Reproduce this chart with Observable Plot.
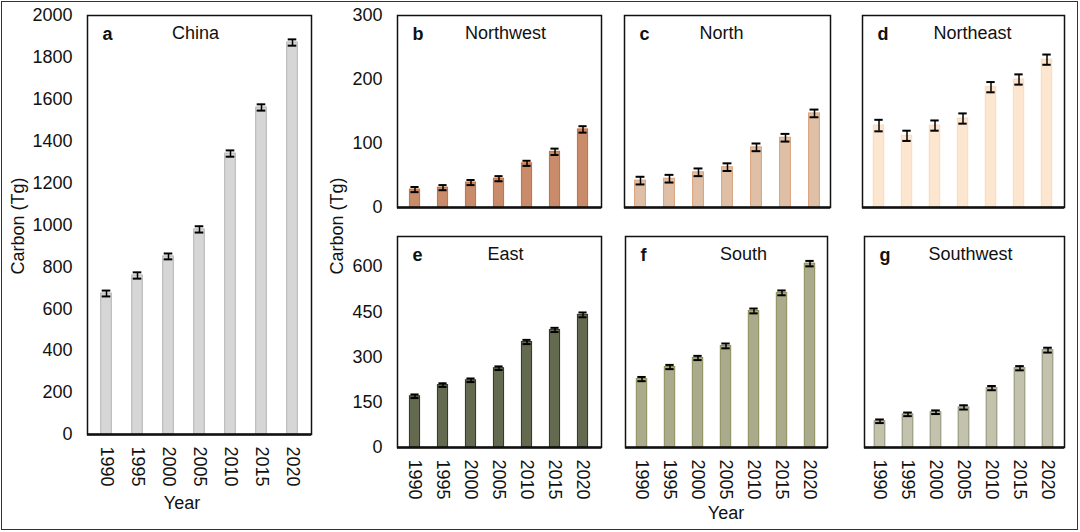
<!DOCTYPE html>
<html>
<head>
<meta charset="utf-8">
<script src="https://cdn.jsdelivr.net/npm/d3@7"></script>
<script src="https://cdn.jsdelivr.net/npm/@observablehq/plot@0.6"></script>
<style>
  html, body { margin: 0; padding: 0; background: #fff; }
  #wrap { position: relative; width: 1080px; height: 532px; overflow: hidden; font-family: "Liberation Sans", Arial, sans-serif; }
  #border { position: absolute; left: 1px; top: 1px; width: 1075px; height: 527px; border: 1.5px solid #333; }
  .p { position: absolute; }
  .p svg { overflow: visible; }
  .lab { position: absolute; font-size: 18px; color: #111; white-space: nowrap; transform: translate(-50%, -50%); }
  .rot { transform: translate(-50%, -50%) rotate(-90deg); }
</style>
</head>
<body>
<div id="wrap">
  <div id="border"></div>
</div>
<script>
const years = ["1990", "1995", "2000", "2005", "2010", "2015", "2020"];

const china        = [673, 759, 850, 979, 1341, 1561, 1871];
const chinaErr     = [14, 15, 14, 15, 15, 15, 15];
const northwest    = [28, 31, 39, 45, 69, 87, 122];
const northwestErr = [4, 4, 4, 4, 4, 5, 5];
const north        = [42, 45, 55, 63, 94, 109, 147];
const northErr     = [6, 6, 6, 6, 6, 6, 6];
const northeast    = [128, 112, 128, 139, 188, 200, 231];
const northeastErr = [9, 8, 8, 8, 8, 8, 8];
const east         = [170, 207, 223, 263, 350, 390, 440];
const eastErr      = [6, 6, 6, 6, 7, 7, 8];
const south        = [227, 267, 297, 337, 453, 513, 610];
const southErr     = [7, 7, 7, 8, 8, 8, 9];
const southwest    = [87, 110, 117, 133, 197, 263, 323];
const southwestErr = [6, 6, 6, 7, 7, 7, 8];

const chinaTicks = [0, 200, 400, 600, 800, 1000, 1200, 1400, 1600, 1800, 2000];
const topTicks = [0, 100, 200, 300];
const bottomTicks = [0, 150, 300, 450, 600];

const wrap = document.getElementById("wrap");

function panel(o) {
  const data = years.map((y, i) => ({year: y, value: o.values[i], err: o.errs[i]}));
  const fw = o.width - o.ml - o.mr;
  const step = fw / 7.1;
  const bw = step * 0.9;
  const inset = (bw - 11) / 2;
  const capInset = (bw - 9) / 2;
  const chart = Plot.plot({
    width: o.width,
    height: o.height,
    marginLeft: o.ml,
    marginRight: o.mr,
    marginTop: o.mt,
    marginBottom: o.mb,
    style: {fontFamily: "'Liberation Sans', Arial, sans-serif", fontSize: "18px", color: "#111", background: "transparent", overflow: "visible"},
    x: {domain: years, padding: 0.1, axis: o.showX ? "bottom" : null, tickSize: 0, tickPadding: 12, tickRotate: 90, label: null},
    y: {domain: o.domain, axis: o.showY ? "left" : null, ticks: o.ticks, tickSize: 0, tickPadding: 15, tickFormat: "d", label: null},
    marks: [
      Plot.barY(data, {x: "year", y: "value", fill: o.fill, stroke: o.stroke, strokeWidth: 1, insetLeft: inset, insetRight: inset}),
      Plot.ruleX(data, {x: "year", y1: d => d.value - d.err, y2: d => d.value + d.err, stroke: "#000", strokeWidth: 1.5}),
      Plot.tickY(data, {x: "year", y: d => d.value + d.err, stroke: "#000", strokeWidth: 2, insetLeft: capInset, insetRight: capInset}),
      Plot.tickY(data, {x: "year", y: d => d.value - d.err, stroke: "#000", strokeWidth: 2, insetLeft: capInset, insetRight: capInset}),
      Plot.frame({stroke: "#111", strokeWidth: 1.5}),
      Plot.ruleY([0], {stroke: "#111", strokeWidth: 2.5}),
      Plot.text([o.letter], {frameAnchor: "top-left", dx: 15, dy: 19, lineAnchor: "middle", textAnchor: "start", fontWeight: "bold", fill: "#111"}),
      Plot.text([o.title], {frameAnchor: "top-left", dx: o.titleDx, dy: 18, lineAnchor: "middle", textAnchor: "middle", fill: "#111"})
    ]
  });
  const div = document.createElement("div");
  div.className = "p";
  div.style.left = o.left + "px";
  div.style.top = o.top + "px";
  div.appendChild(chart);
  wrap.appendChild(div);
}

panel({left: 0, top: 0, width: 330, height: 532, ml: 87, mr: 19, mt: 15, mb: 98,
  values: china, errs: chinaErr, domain: [0, 2000], ticks: chinaTicks, showY: true, showX: true,
  fill: "#d6d6d6", stroke: "#b4b4b4", letter: "a", title: "China", titleDx: 108});

panel({left: 330, top: 0, width: 285, height: 230, ml: 67, mr: 14, mt: 15, mb: 23,
  values: northwest, errs: northwestErr, domain: [0, 300], ticks: topTicks, showY: true, showX: false,
  fill: "#c98b69", stroke: "#d9682a", letter: "b", title: "Northwest", titleDx: 108});

panel({left: 615, top: 0, width: 230, height: 230, ml: 9, mr: 15, mt: 15, mb: 23,
  values: north, errs: northErr, domain: [0, 300], ticks: topTicks, showY: false, showX: false,
  fill: "#dfc0a6", stroke: "#dca27d", letter: "c", title: "North", titleDx: 97});

panel({left: 845, top: 0, width: 230, height: 230, ml: 17, mr: 11, mt: 15, mb: 23,
  values: northeast, errs: northeastErr, domain: [0, 300], ticks: topTicks, showY: false, showX: false,
  fill: "#fde6cf", stroke: "#fbd9b8", letter: "d", title: "Northeast", titleDx: 110});

panel({left: 330, top: 220, width: 285, height: 312, ml: 67, mr: 14, mt: 16, mb: 85,
  values: east, errs: eastErr, domain: [0, 700], ticks: bottomTicks, showY: true, showX: true,
  fill: "#636a50", stroke: "#2e3422", letter: "e", title: "East", titleDx: 108});

panel({left: 615, top: 220, width: 230, height: 312, ml: 10, mr: 18, mt: 16, mb: 85,
  values: south, errs: southErr, domain: [0, 700], ticks: bottomTicks, showY: false, showX: true,
  fill: "#aaaa8c", stroke: "#8c8c56", letter: "f", title: "South", titleDx: 118});

panel({left: 845, top: 220, width: 230, height: 312, ml: 19, mr: 11, mt: 16, mb: 85,
  values: southwest, errs: southwestErr, domain: [0, 700], ticks: bottomTicks, showY: false, showX: true,
  fill: "#c3c3ad", stroke: "#8f8f78", letter: "g", title: "Southwest", titleDx: 106});

function label(text, x, y, rotate) {
  const d = document.createElement("div");
  d.className = "lab" + (rotate ? " rot" : "");
  d.style.left = x + "px";
  d.style.top = y + "px";
  d.textContent = text;
  wrap.appendChild(d);
}
label("Carbon (Tg)", 18, 226, true);
label("Carbon (Tg)", 337, 226, true);
label("Year", 182, 503, false);
label("Year", 726, 513, false);
</script>
</body>
</html>
